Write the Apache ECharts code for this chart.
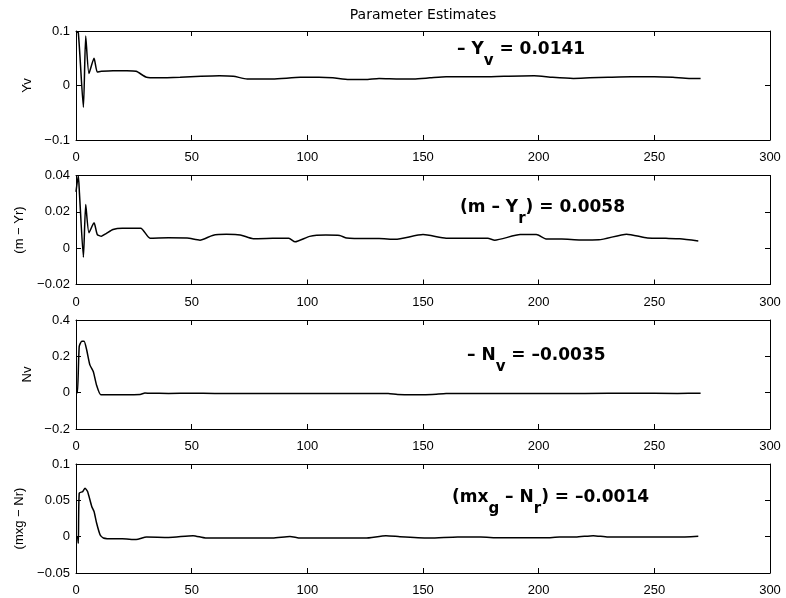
<!DOCTYPE html>
<html>
<head>
<meta charset="utf-8">
<script src="https://cdn.jsdelivr.net/npm/echarts@6/dist/echarts.min.js"></script>
<style>html,body{margin:0;padding:0;background:#fff}#c{width:786px;height:598px}</style>
</head>
<body>
<div id="c"></div>
<script>
// ---- data ----
const chartTitle = 'Parameter Estimates';
const yNames = ['Yv', '(m \u2212 Yr)', 'Nv', '(mxg \u2212 Nr)'];
const xTicks = [0, 50, 100, 150, 200, 250, 300];
const yRanges = [[-0.1, 0.1, 0.1], [-0.02, 0.04, 0.02], [-0.2, 0.4, 0.2], [-0.05, 0.1, 0.05]];

const tYv = [0, 1, 3.2, 4.2, 5.6, 7.8, 9.2, 11, 16, 22, 26, 30.5, 35, 45, 54, 62, 68, 74, 85, 97, 105, 111, 118, 125, 131, 140, 146, 153, 160, 168, 175, 185, 198, 206, 215, 222, 230, 240, 250, 258, 265, 270];
const vYv = [0.098, 0.097, -0.040, 0.091, 0.022, 0.050, 0.025, 0.026, 0.027, 0.027, 0.026, 0.015, 0.014, 0.015, 0.017, 0.018, 0.017, 0.012, 0.012, 0.015, 0.015, 0.014, 0.011, 0.011, 0.013, 0.012, 0.012, 0.014, 0.016, 0.016, 0.016, 0.017, 0.018, 0.015, 0.013, 0.014, 0.015, 0.016, 0.016, 0.015, 0.013, 0.013];

const tYr = [0, 1, 1.5, 3.2, 4.2, 5.6, 7.8, 9.2, 11, 13, 16, 20, 26, 28, 32, 40, 48, 53.6, 59, 65, 71, 76.6, 85, 92, 94.7, 101, 108, 114, 117, 126, 131, 138, 150, 160, 170, 178, 181, 192, 199, 203.5, 210, 218, 226, 238, 247, 255, 261, 269];
const vYr = [0.031, 0.040, 0.030, -0.005, 0.024, 0.0085, 0.014, 0.0075, 0.0066, 0.008, 0.0103, 0.011, 0.011, 0.011, 0.0055, 0.0057, 0.0056, 0.0044, 0.007, 0.0076, 0.0073, 0.0052, 0.0054, 0.0055, 0.0035, 0.0065, 0.0072, 0.007, 0.0056, 0.0053, 0.0053, 0.0049, 0.0075, 0.0055, 0.0054, 0.0054, 0.0044, 0.0075, 0.0075, 0.005, 0.005, 0.0045, 0.0046, 0.0077, 0.0056, 0.0054, 0.0052, 0.004];

const tNv = [0, 0.6, 1.4, 2.5, 3.5, 4.6, 6, 7.5, 8.9, 10.7, 14, 20, 27.7, 29.8, 32, 40, 50, 60, 80, 100, 120, 135, 139, 147, 154, 160, 180, 200, 220, 240, 260, 270];
const vNv = [0, 0, 0.255, 0.283, 0.283, 0.236, 0.153, 0.115, 0.041, -0.011, -0.011, -0.011, -0.010, -0.002, -0.003, -0.004, -0.003, -0.004, -0.004, -0.004, -0.004, -0.005, -0.010, -0.011, -0.010, -0.005, -0.004, -0.004, -0.004, -0.003, -0.004, -0.0035];

const tNr = [0, 0.6, 1, 1.4, 2.9, 3.9, 5, 6.8, 7.8, 8.9, 10.4, 11.8, 16, 20, 26, 30.5, 40, 50.6, 56, 70, 85, 92.5, 97, 110, 125, 134, 140, 153, 165, 175, 183, 195, 203, 209, 216, 223.6, 230, 245, 260, 269];
const vNr = [0, 0, -0.009, 0.060, 0.062, 0.0668, 0.062, 0.0416, 0.0347, 0.0188, 0.0027, -0.0018, -0.003, -0.003, -0.004, -0.0005, -0.001, 0.0014, -0.0018, -0.0018, -0.0018, 0.0004, -0.002, -0.002, -0.002, 0.0012, 0.0, -0.002, -0.0005, -0.0005, -0.0015, -0.0015, -0.0015, -0.0005, -0.0005, 0.0014, -0.0005, -0.0005, -0.0005, 0.0007];

const seriesT = [tYv, tYr, tNv, tNr];
const seriesV = [vYv, vYr, vNv, vNr];

// annotation texts: [style, text] pieces
const annotations = [
  [['b', '\u2013 Y'], ['s', 'v'], ['b', ' = 0.0141']],
  [['b', '(m \u2013 Y'], ['s', 'r'], ['b', ') = 0.0058']],
  [['b', '\u2013 N'], ['s', 'v'], ['b', ' = \u20130.0035']],
  [['b', '(mx'], ['s', 'g'], ['b', ' \u2013 N'], ['s', 'r'], ['b', ') = \u20130.0014']]
];

// ---- layout ----
const FONT = "'Liberation Sans', Arial, Helvetica, sans-serif";
const WIDEFONT = "'DejaVu Sans', 'Liberation Sans', sans-serif";
const tops = [31, 175.5, 320, 464];
const gridH = 109;
const annPos = [[457, 41], [460, 199], [467, 347], [452, 489]];

function fmt(v) {
  const r = Math.round(v * 1e6) / 1e6;
  return String(r).replace('-', '\u2212');
}

const grid = [], xAxis = [], yAxis = [], series = [];
tops.forEach((t, i) => {
  grid.push({ left: 76, right: 16, top: t, height: gridH, containLabel: false });
  const axLine = { show: true, onZero: false, lineStyle: { color: '#000', width: 1 } };
  const tick = { show: true, inside: true, length: 5, lineStyle: { color: '#000', width: 1 } };
  const [ymin, ymax, yint] = yRanges[i];
  xAxis.push({
    type: 'value', gridIndex: i, position: 'bottom', min: xTicks[0], max: xTicks[xTicks.length - 1],
    interval: xTicks[1] - xTicks[0], axisLine: axLine, axisTick: tick, splitLine: { show: false },
    axisLabel: { color: '#000', fontSize: 13, fontFamily: FONT, margin: 11 }
  });
  xAxis.push({
    type: 'value', gridIndex: i, position: 'top', min: xTicks[0], max: xTicks[xTicks.length - 1],
    interval: xTicks[1] - xTicks[0], axisLine: axLine, axisTick: tick, splitLine: { show: false },
    axisLabel: { show: false }
  });
  yAxis.push({
    type: 'value', gridIndex: i, position: 'left', min: ymin, max: ymax, interval: yint,
    axisLine: axLine, axisTick: tick, splitLine: { show: false },
    axisLabel: { color: '#000', fontSize: 13, fontFamily: FONT, margin: 6, formatter: fmt },
    name: yNames[i], nameLocation: 'middle', nameGap: 41, nameRotate: 90,
    nameTextStyle: { color: '#000', fontSize: 13, fontFamily: FONT }
  });
  yAxis.push({
    type: 'value', gridIndex: i, position: 'right', min: ymin, max: ymax, interval: yint,
    axisLine: axLine, axisTick: tick, splitLine: { show: false }, axisLabel: { show: false }
  });
  series.push({
    type: 'line', xAxisIndex: i * 2, yAxisIndex: i * 2, showSymbol: false, symbol: 'none',
    lineStyle: { color: '#000', width: 1.5 }, silent: true, smooth: 0.2,
    data: seriesT[i].map((x, k) => [x, seriesV[i][k]])
  });
});

const graphic = annotations.map((parts, i) => ({
  type: 'text', left: annPos[i][0], top: annPos[i][1],
  style: {
    text: parts.map(p => '{' + p[0] + '|' + p[1] + '}').join(''),
    rich: {
      b: { fontSize: 17, fontWeight: 'bold', fontFamily: WIDEFONT, fill: '#000', lineHeight: 28, verticalAlign: 'top' },
      s: { fontSize: 15, fontWeight: 'bold', fontFamily: WIDEFONT, fill: '#000', lineHeight: 28, verticalAlign: 'bottom' }
    }
  }
}));
graphic.push({
  type: 'text', x: 423, y: 8,
  style: { text: chartTitle, fontSize: 14, fontFamily: WIDEFONT, fill: '#000', align: 'center', verticalAlign: 'top' }
});

const chart = echarts.init(document.getElementById('c'), null, { renderer: 'canvas' });
chart.setOption({
  animation: false,
  backgroundColor: '#fff',
  grid, xAxis, yAxis, series, graphic
});
</script>
</body>
</html>
